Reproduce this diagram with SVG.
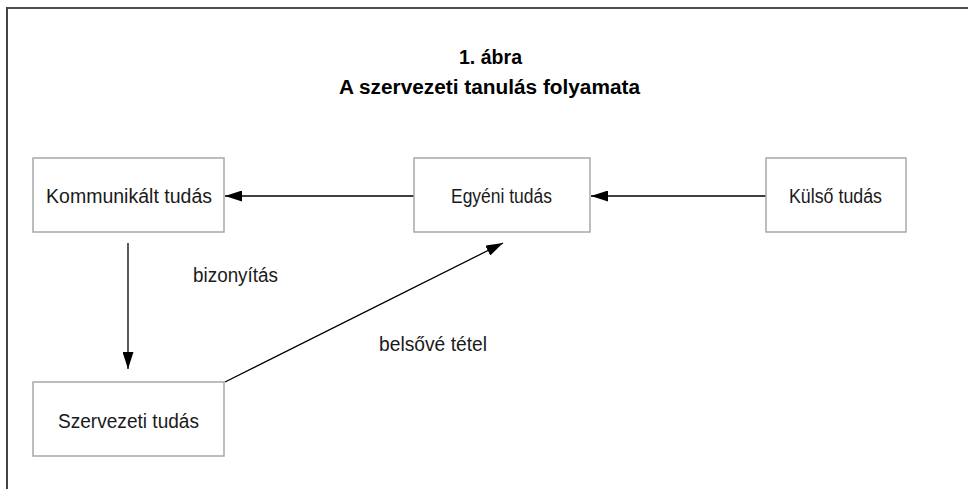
<svg xmlns="http://www.w3.org/2000/svg" width="968" height="489" viewBox="0 0 968 489">
  <defs>
    <style>
      .frame-top { stroke: #111; stroke-width: 1.6; fill: none; }
      .frame-left { stroke: #444; stroke-width: 2; fill: none; }
      .box { fill: #fff; stroke: #a8a8a8; stroke-width: 1.5; }
      .label { font-family: "Liberation Sans", Arial, sans-serif; font-size: 20px; fill: #1a1a1a; text-anchor: start; }
      .title { font-family: "Liberation Sans", Arial, sans-serif; font-size: 20px; font-weight: bold; fill: #000; }
      .edge { stroke: #000; stroke-width: 1.3; fill: none; marker-end: url(#arrow); }
    </style>
    <marker id="arrow" viewBox="0 0 17 11" refX="17" refY="5.5" markerWidth="17" markerHeight="11" markerUnits="userSpaceOnUse" orient="auto">
      <path d="M0,0 L17,5.5 L0,11 Z" fill="#000"/>
    </marker>
  </defs>
  <rect width="968" height="489" fill="#fff"/>
  <line class="frame-top" x1="7" y1="8" x2="968" y2="8"/>
  <line class="frame-left" x1="7" y1="7" x2="7" y2="489"/>

  <g id="title">
    <text class="title" x="459" y="64" textLength="63" lengthAdjust="spacingAndGlyphs">1. ábra</text>
    <text class="title" x="339" y="94" textLength="301" lengthAdjust="spacingAndGlyphs">A szervezeti tanulás folyamata</text>
  </g>

  <g id="connectors">
    <line class="edge" x1="414" y1="196" x2="225" y2="196"/>
    <line class="edge" x1="766" y1="196" x2="591" y2="196"/>
    <line class="edge" x1="128" y1="243" x2="128" y2="369"/>
    <line class="edge" x1="225" y1="382" x2="503" y2="243"/>
    <text class="label" x="193" y="282" textLength="85" lengthAdjust="spacingAndGlyphs">bizonyítás</text>
    <text class="label" x="379" y="351" textLength="108" lengthAdjust="spacingAndGlyphs">belsővé tétel</text>
  </g>

  <g id="kommunikalt">
    <rect class="box" x="33" y="158" width="191" height="74"/>
    <text class="label" x="46" y="203" textLength="166" lengthAdjust="spacingAndGlyphs">Kommunikált tudás</text>
  </g>
  <g id="egyeni">
    <rect class="box" x="414" y="158" width="176" height="74"/>
    <text class="label" x="451" y="203" textLength="101" lengthAdjust="spacingAndGlyphs">Egyéni tudás</text>
  </g>
  <g id="kulso">
    <rect class="box" x="766" y="158" width="140" height="74"/>
    <text class="label" x="789" y="203" textLength="93" lengthAdjust="spacingAndGlyphs">Külső tudás</text>
  </g>
  <g id="szervezeti">
    <rect class="box" x="33" y="382" width="191" height="74"/>
    <text class="label" x="58" y="428" textLength="141" lengthAdjust="spacingAndGlyphs">Szervezeti tudás</text>
  </g>
</svg>
